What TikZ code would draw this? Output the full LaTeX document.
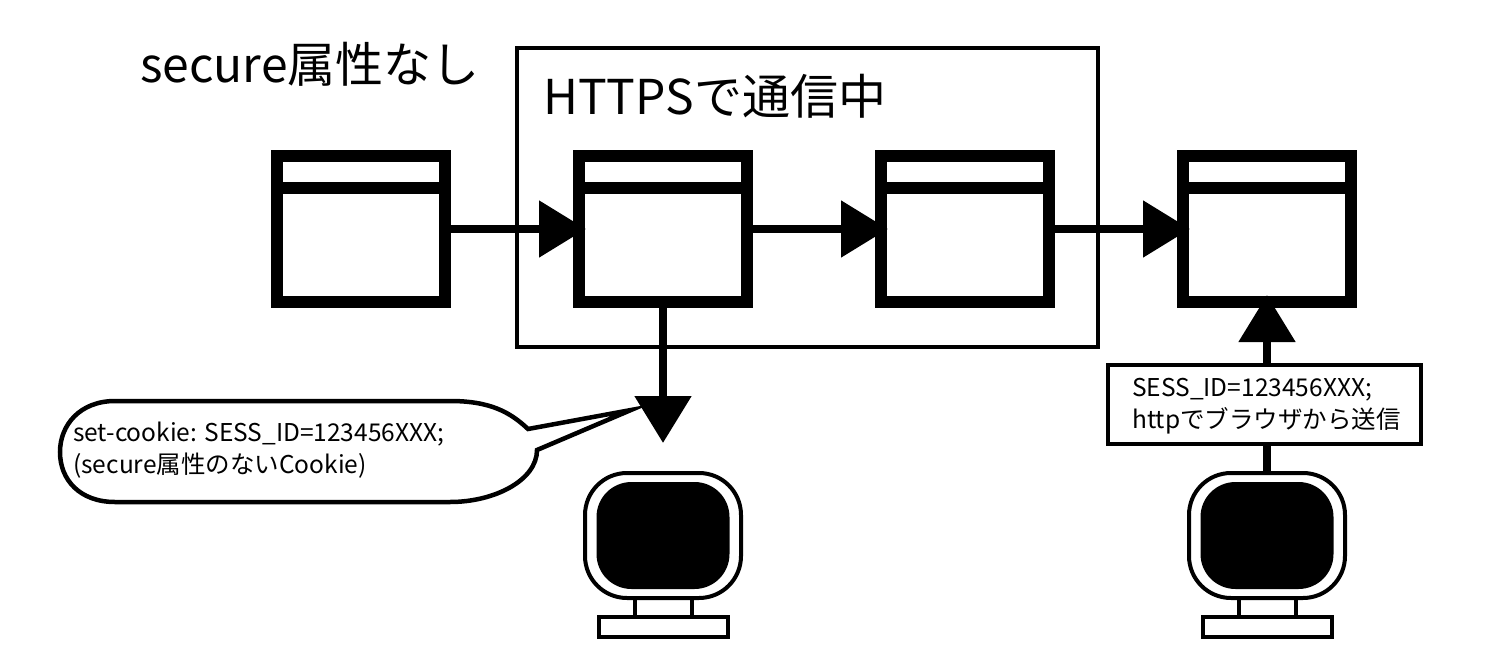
\documentclass[tikz,border=0pt]{standalone}
\usepackage{fontspec}
\setmainfont{Noto Sans CJK JP}
\usetikzlibrary{arrows.meta,calc,positioning}

\begin{document}
\begin{tikzpicture}[x=1pt,y=-1pt,
    every node/.style={inner sep=0pt},
    window/.style={draw,line width=12pt,minimum width=168pt,minimum height=146pt},
    link/.style={line width=8.5pt,-{Triangle[length=47pt,width=55pt]}},
    monitor/.style={draw,line width=4pt,minimum width=156pt,minimum height=125pt,rounded corners=42pt},
    screen/.style={fill=black,minimum width=133pt,minimum height=107pt,rounded corners=35pt},
    neck/.style={draw,line width=4pt,minimum width=57pt,minimum height=19pt},
    stand/.style={draw,fill=white,line width=4pt,minimum width=129pt,minimum height=20pt},
    title/.style={anchor=base west,font=\fontsize{48}{60}\selectfont},
    memo/.style={align=left,font=\fontsize{24.5}{32}\selectfont}]
    \useasboundingbox (0,0) rectangle (1504,669);

    \node[draw,line width=4pt,minimum width=581pt,minimum height=299pt] (HTTPS) at (807.5,197.5) {};
    \node[title] (NOATTR) at (140,82) {secure属性なし};
    \node[title] (INHTTPS) at (543,114) {HTTPSで通信中};

    \foreach \name/\x in {PAGE0/361,PAGE1/663,PAGE2/965,PAGE3/1267} {
      \node[window] (\name) at (\x,229) {};
      \draw[line width=12pt] ($(\name.north west)+(0,37.5)$) -- ($(\name.north east)+(0,37.5)$);
    }

    \foreach \name/\x in {PC0/663,PC1/1267} {
      \node[neck] (\name NECK) at (\x,607) {};
      \node[monitor,fill=white] (\name) at (\x,535.5) {};
      \node[screen] (\name SCREEN) at (\name) {};
      \node[stand] (\name STAND) at (\x,627) {};
    }

    \draw[link,shorten >=-13pt] (PAGE0.east) -- (PAGE1.west);
    \draw[link,shorten >=-13pt] (PAGE1.east) -- (PAGE2.west);
    \draw[link,shorten >=-13pt] (PAGE2.east) -- (PAGE3.west);
    \draw[link,shorten >=28pt] (PAGE1.south) -- (PC0.north);
    \draw[link,shorten >=-13pt] (PC1.north) -- (PAGE3.south);

    \node[draw,fill=white,line width=4pt,minimum width=313pt,minimum height=79pt] (SENT) at (1264.5,404.5) {};
    \node[memo,anchor=west] (SENTTEXT) at (1132,406) {SESS\_ID=123456XXX;\\httpでブラウザから送信};

    \coordinate (TIP) at (631,410);
    \draw[line width=4.5pt,line join=miter,fill=white] (528,429)
      .. controls (510,412) and (490,401) .. (450,401) -- (115,401)
      .. controls (80,401) and (60,425) .. (60,452)
      .. controls (60,480) and (80,502) .. (115,502) -- (450,502)
      .. controls (495,502) and (537,480) .. (537,450) -- (TIP) -- cycle;
    \node[memo,anchor=west] (COOKIE) at (73,450) {set-cookie: SESS\_ID=123456XXX;\\(secure属性のないCookie)};
  \end{tikzpicture}
\end{document}
